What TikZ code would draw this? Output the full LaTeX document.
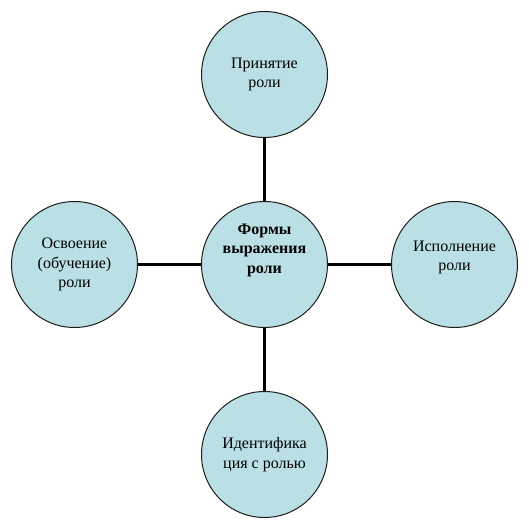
\documentclass[tikz,border=0pt]{standalone}
\usepackage{fontspec}
\setmainfont{LiberationSerif}[Extension=.ttf, UprightFont=*-Regular, BoldFont=*-Bold]
\usetikzlibrary{positioning}
\definecolor{roleBlue}{HTML}{BADFE4}
\definecolor{edgeInk}{HTML}{1E1E1E}
\tikzset{
  role/.style = {circle, draw=edgeInk, line width=0.75pt, fill=roleBlue,
                 minimum size=94.5pt, inner sep=1pt, align=center,
                 font=\fontsize{12}{14.5}\selectfont},
  hub/.style  = {role, font=\fontsize{12}{14.5}\selectfont\bfseries, text depth=24pt},
  link/.style = {draw=black, line width=2.25pt}
}
\begin{document}
\begin{tikzpicture}[x=0.75pt, y=0.75pt, node distance=47.25pt]
  \useasboundingbox (0,0) rectangle (529,529);
  \node[hub] (ctr) at (264.5,264.5) {Формы\\выражения\\роли};

  \node[role, above=of ctr] (accept) {Принятие\\роли};
  \node[role, right=of ctr, text depth=13pt] (perform) {Исполнение\\роли};
  \node[role, below=of ctr] (ident) {Идентифика\\ция с ролью};
  \node[role, left=of ctr] (learn) {Освоение\\(обучение)\\роли};

  \draw[link] (ctr) -- (accept);
  \draw[link] (ctr) -- (perform);
  \draw[link] (ctr) -- (ident);
  \draw[link] (ctr) -- (learn);
\end{tikzpicture}
\end{document}
